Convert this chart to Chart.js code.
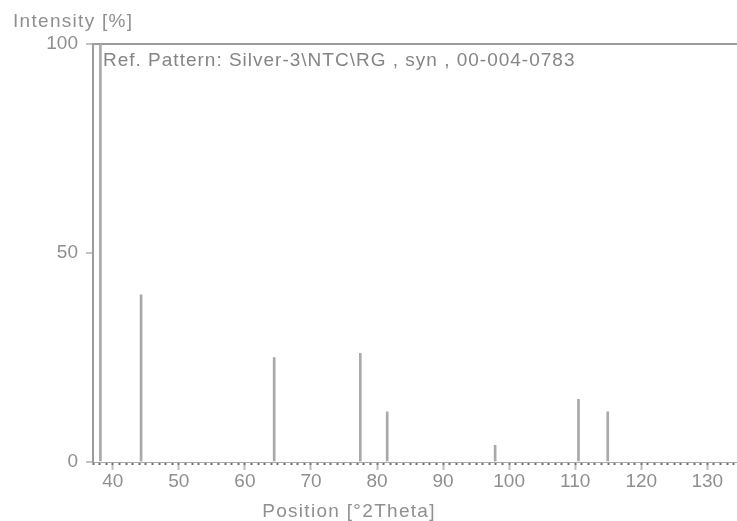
<!DOCTYPE html>
<html>
<head>
<meta charset="utf-8">
<script src="https://cdn.jsdelivr.net/npm/chart.js@4.4.1/dist/chart.umd.min.js"></script>
<style>
    html, body { margin: 0; padding: 0; background: #fff; }
    #wrap { width: 737px; height: 521px; position: relative; }
</style>
</head>
<body>
<div id="wrap"><canvas id="pattern-chart"></canvas></div>
<script>
// Reference stick pattern: peak position (°2Theta) and relative intensity (%).
const peakPositions = [38.12, 44.28, 64.43, 77.47, 81.54, 97.88, 110.50, 114.93];
const peakIntensities = [100, 40, 25, 26, 12, 4, 15, 12];

const xMajorTicks = [40, 50, 60, 70, 80, 90, 100, 110, 120, 130];
const yTicks = [0, 50, 100];

const xRange = { min: 37, max: 134.5 };
const patternLabel = "Ref. Pattern: Silver-3\\NTC\\RG , syn , 00-004-0783";
const yTitle = "Intensity [%]";
const xTitle = "Position [°2Theta]";

const TEXT = "#8f8f8f";
const LINE = "#9c9c9c";
const FONT = "'Liberation Sans', Arial, sans-serif";

// Captions drawn by hand: the source app spaces these letters out a bit wider than ticks.
const captions = {
    id: "captions",
    afterDraw(chart) {
        const { ctx } = chart;
        ctx.save();
        ctx.fillStyle = TEXT;
        ctx.textBaseline = "alphabetic";
        ctx.font = `19px ${FONT}`;
        ctx.letterSpacing = "1.3px";
        ctx.textAlign = "left";
        ctx.fillText(yTitle, 13, 27);
        ctx.textAlign = "center";
        ctx.fillText(xTitle, 349, 517);
        ctx.letterSpacing = "1px";
        ctx.textAlign = "left";
        ctx.fillStyle = "#858585";
        ctx.fillText(patternLabel, chart.chartArea.left + 10, chart.chartArea.top + 22);
        ctx.restore();
    }
};

const points = peakPositions.map((x, i) => ({ x, y: peakIntensities[i] }));

new Chart(document.getElementById("pattern-chart"), {
    type: "bar",
    data: {
        datasets: [{
            data: points,
            backgroundColor: "#a9a9a9",
            borderWidth: 0,
            barThickness: 2,
            xAxisID: "x",
            yAxisID: "y"
        }]
    },
    options: {
        responsive: true,
        maintainAspectRatio: false,
        animation: false,
        layout: { padding: { top: 44, left: 0, right: 0, bottom: 0 } },
        plugins: {
            legend: { display: false },
            tooltip: { enabled: false }
        },
        scales: {
            // minor ticks, one per degree, sit right on the axis line
            xMinor: {
                type: "linear",
                position: "bottom",
                weight: 0,
                offset: false,
                min: xRange.min,
                max: xRange.max,
                ticks: { display: false, stepSize: 1, includeBounds: false },
                grid: { offset: false, drawOnChartArea: false, tickLength: 3, tickColor: "#6f6f6f", tickWidth: 2 },
                border: { display: true, color: "#a8a8a8", width: 1 },
                afterFit: (scale) => { scale.height = 3; }
            },
            x: {
                type: "linear",
                position: "bottom",
                weight: 1,
                offset: false,
                min: xRange.min,
                max: xRange.max,
                afterBuildTicks: (scale) => {
                    scale.ticks = xMajorTicks.map(v => ({ value: v }));
                },
                ticks: {
                    color: TEXT,
                    font: { family: FONT, size: 19 },
                    padding: 0,
                    autoSkip: false,
                    maxRotation: 0
                },
                grid: { offset: false, drawOnChartArea: false, tickLength: 5, tickColor: "#bdbdbd", tickWidth: 2 },
                border: { display: false },
                title: { display: false },
                afterFit: (scale) => { scale.height = 56; }
            },
            y: {
                type: "linear",
                min: 0,
                max: 100,
                afterBuildTicks: (scale) => {
                    scale.ticks = yTicks.map(v => ({ value: v }));
                },
                ticks: {
                    color: TEXT,
                    font: { family: FONT, size: 19 },
                    padding: 8
                },
                grid: {
                    color: (c) => c.tick && c.tick.value === 100 ? LINE : "rgba(0,0,0,0)",
                    lineWidth: 2,
                    tickColor: "#c4c4c4",
                    tickLength: 7,
                    drawOnChartArea: true
                },
                border: { display: true, color: LINE, width: 2 },
                afterFit: (scale) => { scale.width = 93; }
            }
        }
    },
    plugins: [captions]
});
</script>
</body>
</html>
